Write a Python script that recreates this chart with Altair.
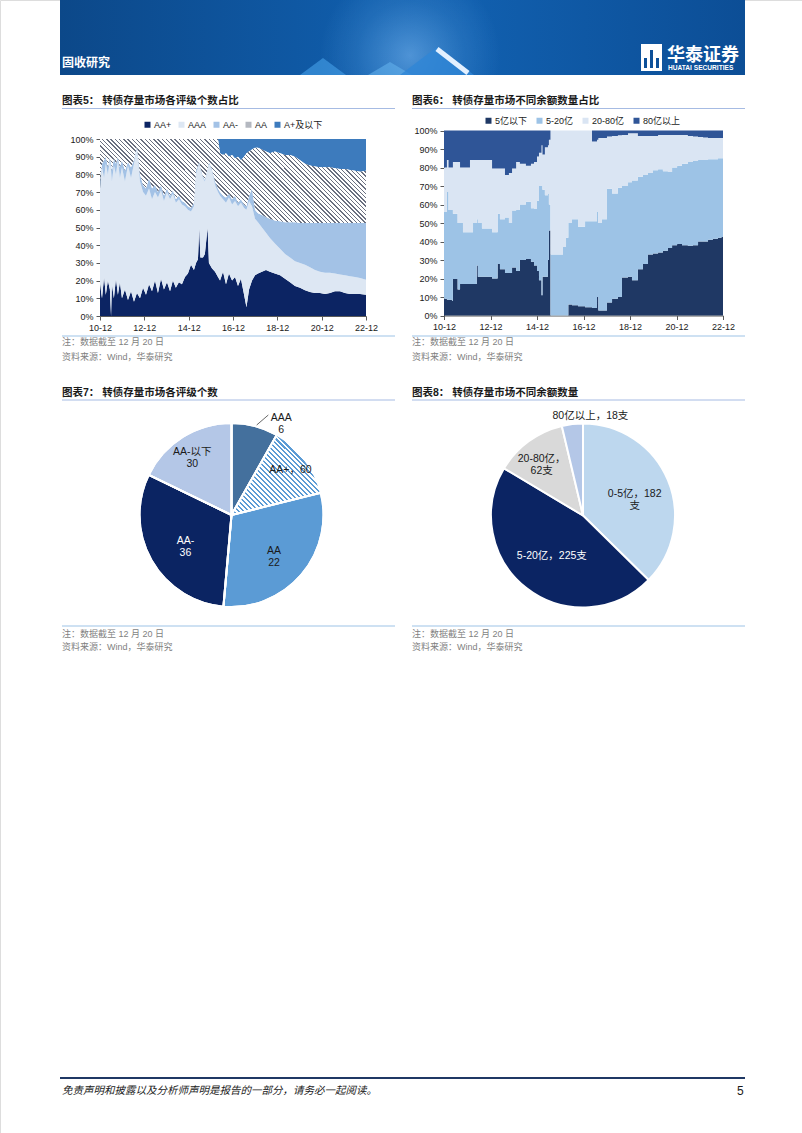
import altair as alt
import pandas as pd

FONT = "Liberation Sans, Noto Sans CJK SC"
DARK = "#1a1a1a"
GRAY = "#7f7f7f"
W, H = 802, 1133

# ---------------- Chart 5: cumulative shares by rating (%) -------------
c5_dates = ["2010-12-01", "2011-01-03", "2011-02-06", "2011-03-07", "2011-04-10", "2011-05-13",
            "2011-06-01", "2011-06-15", "2011-07-18", "2011-08-21", "2011-09-22", "2011-10-25",
            "2011-11-28", "2012-01-16", "2012-03-06", "2012-04-25", "2012-06-13", "2012-08-01",
            "2012-09-20", "2012-11-09", "2012-12-28", "2013-02-16", "2013-04-06", "2013-05-25",
            "2013-07-13", "2013-09-01", "2013-10-20", "2013-12-09", "2014-01-28", "2014-03-16",
            "2014-05-04", "2014-06-23", "2014-08-12", "2014-10-01", "2014-11-19", "2015-01-08",
            "2015-02-26", "2015-04-01", "2015-05-03", "2015-05-24", "2015-06-12", "2015-07-25",
            "2015-08-25", "2015-10-09", "2015-10-31", "2015-12-19", "2016-02-09", "2016-03-28",
            "2016-05-01", "2016-06-19", "2016-08-07", "2016-09-25", "2016-11-15", "2017-01-03",
            "2017-02-21", "2017-04-10", "2017-06-01", "2017-07-10", "2017-08-22", "2017-10-10",
            "2017-11-28", "2018-01-16", "2018-03-22", "2018-05-28", "2018-08-01", "2018-10-22",
            "2019-01-15", "2019-04-07", "2019-06-28", "2019-09-18", "2019-12-10", "2020-03-01",
            "2020-05-22", "2020-08-12", "2020-11-03", "2021-01-25", "2021-04-16", "2021-07-07",
            "2021-09-28", "2021-12-19", "2022-03-12", "2022-06-03", "2022-08-25", "2022-12-01"]
c5_aaplus_top = [18, 10, 22, 12, 20, 15, 0, 18, 10, 21, 12, 19,
                 10, 15, 9, 14, 8, 13, 10, 16, 12, 18, 14, 20,
                 13, 21, 15, 19, 14, 20, 16, 19, 18, 22, 24, 29,
                 26, 30, 32, 50, 33, 33, 35, 50, 30, 27, 25, 22,
                 20, 25, 18, 24, 20, 22, 17, 21, 12, 5, 15, 20,
                 23, 24, 25, 26, 25, 24, 23, 21, 19, 17, 16, 14.5,
                 13.5, 13, 13, 12.5, 13, 14, 14, 13, 12.5, 12.5, 12.5, 12]
c5_aaa_top = [72, 84, 78, 86, 80, 88, 82, 76, 85, 80, 88, 78,
              84, 76, 85, 78, 86, 95, 76, 70, 68, 72, 66, 70,
              67, 71, 65, 70, 66, 69, 64, 66, 63, 62, 60, 59,
              62, 80, 84, 86, 83, 78, 76, 82, 86, 82, 74, 70,
              68, 66, 64, 67, 63, 65, 62, 64, 61, 60, 65, 62,
              55, 53, 50, 47, 44, 41, 38, 35, 33, 31, 30, 29,
              27.5, 26, 25, 24.5, 24.5, 24, 23.5, 23, 22.5, 22, 21.5, 20.5]
c5_aaminus_top = [76, 86, 88, 90, 84, 90, 86, 82, 89, 86, 90, 84,
                  88, 82, 87, 84, 88, 96, 80, 74, 72, 78, 72, 74,
                  70, 74, 68, 72, 68, 71, 66, 68, 65, 64, 62, 61,
                  64, 82, 85, 87, 84, 79, 77, 83, 87, 83, 76, 72,
                  70, 68, 67, 69, 66, 68, 64, 66, 63, 62, 68, 72,
                  60, 58, 57, 56, 55, 54, 53.5, 53, 53, 53, 52.5, 52.5,
                  52.5, 52.5, 52.5, 52.5, 52.5, 52.5, 52.5, 52.5, 52.5, 52.5, 52.5, 52.5]
c5_aa_top = [100] * 48 + [92, 91, 92, 90, 91, 89, 90, 88, 90, 92, 93, 94,
                          95, 95, 94, 93, 92, 93, 92, 91, 91, 90, 88, 86,
                          85, 84.5, 84, 84, 84, 83.5, 83, 83, 82.5, 82, 81.5, 82]
c5_series = ["AA+", "AAA", "AA-", "AA", "A+及以下"]
c5_colors = ["#0c2463", "#dde7f3", "#a3c2e6", "#b4b8c0", "#3d7bbd"]

# ---------------- Chart 6: cumulative shares by outstanding amount (%) -------------
c6_dates = ["2010-12-01", "2011-01-16", "2011-02-10", "2011-04-05", "2011-04-20", "2011-07-03",
            "2011-08-10", "2011-09-25", "2012-01-13", "2012-03-01", "2012-04-28", "2012-05-16",
            "2012-07-19", "2012-12-25", "2013-03-22", "2013-04-28", "2013-07-16", "2013-09-16",
            "2013-11-04", "2014-01-07", "2014-03-07", "2014-06-10", "2014-08-28", "2014-10-15",
            "2014-12-01", "2015-01-01", "2015-02-10", "2015-02-25", "2015-04-04", "2015-05-22",
            "2015-06-06", "2015-07-01", "2016-01-13", "2016-03-01", "2016-04-06", "2016-06-03",
            "2016-09-06", "2016-12-25", "2017-04-13", "2017-07-01", "2017-07-22", "2017-09-16",
            "2017-12-04", "2018-02-22", "2018-05-25", "2018-07-28", "2018-10-31", "2019-01-01",
            "2019-04-04", "2019-06-22", "2019-09-09", "2019-11-27", "2020-02-15", "2020-05-01",
            "2020-07-19", "2020-09-22", "2020-12-10", "2021-02-25", "2021-05-28", "2021-08-16",
            "2021-11-04", "2022-01-22", "2022-04-10", "2022-06-25", "2022-09-13", "2022-11-07",
            "2022-12-01"]
c6_lt5_top = [9, 8.5, 8.5, 8, 19.7, 14, 17, 17, 17, 17, 27, 21,
              21, 20, 27.8, 25, 23, 23, 26, 24, 30, 30.5, 29, 27,
              24, 19, 11, 21, 21, 30, 46, 0, 0, 0, 6, 5.5,
              5, 4.5, 4, 10, 2.7, 2.7, 7, 9, 10, 20.6, 21, 19,
              25, 27.8, 33, 33.5, 34, 35, 36.5, 38, 38.6, 38, 37.7, 38,
              40, 40, 41, 41.5, 42, 42.5, 37]
c6_5to20_top = [56, 66.7, 57, 57, 55, 50, 50, 45, 45, 50, 52, 50,
                47, 45, 55, 52, 53, 50, 56.7, 57, 60, 61.5, 58, 57.6,
                62, 70, 70, 68, 65, 66, 60, 33, 37, 42, 50, 52,
                48, 51, 51, 56, 50, 52, 68.5, 66, 69, 70, 72, 73,
                75, 76, 77, 78.5, 79, 78, 77.6, 80, 81, 82, 83, 83.5,
                84, 84, 84.5, 84.5, 85, 85, 84]
c6_20to80_top = [80, 84, 80, 80, 83, 83, 80, 80, 84, 84, 84, 84,
                 84, 79.5, 79.5, 79.5, 76, 77, 79.5, 83, 82, 81, 82, 83,
                 86, 88, 92, 87, 91, 92, 95, 100, 100, 100, 100, 100,
                 100, 100, 94, 95, 96, 96, 96.7, 97, 97.5, 97.6, 98.5, 98.5,
                 97, 97, 97, 97, 97.6, 97.6, 97.6, 97.6, 97.6, 97.6, 97, 96.7,
                 96.5, 96.2, 96, 96, 96, 96, 96]
c6_series = ["5亿以下", "5-20亿", "20-80亿", "80亿以上"]
c6_colors = ["#1f3864", "#9dc3e6", "#dae5f3", "#2f5597"]

p7_cats = ["AAA", "AA+", "AA", "AA-", "AA-以下"]
p7_share = [8.2, 12.9, 30.3, 30.8, 17.8]
p7_labels = ["AAA\n6", "AA+，60", "AA\n22", "AA-\n36", "AA-以下\n30"]
p7_colors = ["#44709d", "#ffffff", "#5b9bd5", "#0b2462", "#b4c7e7"]

# ---------------- Pie 8 -------------
p8_cats = ["0-5亿", "5-20亿", "20-80亿", "80亿以上"]
p8_counts = [182, 225, 62, 18]
p8_labels = ["0-5亿，182\n支", "5-20亿，225支", "20-80亿，\n62支", "80亿以上，18支"]
p8_colors = ["#bdd7ee", "#0b2463", "#d9d9d9", "#b4c7e7"]

# label layout (style, not data)
p7_label_r = [109, 74, 56, 53, 74]
p7_label_c = [DARK, DARK, DARK, "#ffffff", DARK]
p7_outer = [1, 0, 0, 0, 0]
p8_label_r = [56, 51, 70, 100]
p8_label_c = [DARK, "#ffffff", DARK, DARK]
p8_outer = [0, 0, 0, 1]

assert len(c5_dates) == len(c5_aaplus_top) == len(c5_aaa_top) == len(c5_aaminus_top) == len(c5_aa_top)
assert len(c6_dates) == len(c6_lt5_top) == len(c6_5to20_top) == len(c6_20to80_top)


def hatch(dark, light, n, frac, x1, y1, x2, y2):
    stops = []
    for i in range(n):
        a, b, c = i / n, (i + frac) / n, (i + 1) / n
        stops += [alt.GradientStop(offset=round(a, 5), color=dark),
                  alt.GradientStop(offset=round(b, 5), color=dark),
                  alt.GradientStop(offset=round(b, 5), color=light),
                  alt.GradientStop(offset=round(c, 5), color=light)]
    return alt.LinearGradient(gradient="linear", stops=stops, x1=x1, y1=y1, x2=x2, y2=y2)


def dt(y, m=12, d=1):
    return alt.DateTime(year=y, month=m, date=d, utc=True)


def time_x(rng, bottom, show=True):
    axis = None
    if show:
        axis = alt.Axis(orient="bottom", offset=-(H - bottom), format="%y-%m",
                        values=[dt(y) for y in range(2010, 2023, 2)],
                        title=None, grid=False, labelFont=FONT, labelFontSize=9,
                        labelColor=DARK, labelFlush=False, labelPadding=3, tickSize=4,
                        tickColor="#595959", domainColor="#595959", labelOverlap=False)
    return alt.X("date:T", scale=alt.Scale(type="utc", domain=[dt(2010), dt(2022)], range=rng),
                 axis=axis)


def pct_y(rng, left, show=True):
    axis = None
    if show:
        axis = alt.Axis(orient="left", offset=-left, values=list(range(0, 101, 10)),
                        labelExpr="datum.value + '%'", title=None, grid=False, labelFont=FONT,
                        labelFontSize=9, labelColor=DARK, labelPadding=3, tickSize=4,
                        tickColor="#595959", domainColor="#595959")
    return alt.Y("lo:Q", stack=None,
                 scale=alt.Scale(domain=[0, 100], range=rng, nice=False, zero=False), axis=axis)


def long_frame(dates, tops, series):
    rows = []
    for i, d in enumerate(dates):
        b = [0] + [t[i] for t in tops] + [100]
        for j, s in enumerate(series):
            rows.append({"date": d, "series": s, "lo": b[j], "hi": b[j + 1]})
    return pd.DataFrame(rows)


def legend(x, y, pad):
    return alt.Legend(orient="none", legendX=x, legendY=y, direction="horizontal", title=None,
                      symbolType="square", symbolSize=36, symbolStrokeWidth=0,
                      labelFont=FONT, labelFontSize=9, labelColor=DARK,
                      columnPadding=pad, labelOffset=2)


layers = []

# ---------------- page furniture (header, titles, notes, footer) -------------
sx = alt.Scale(domain=[0, W], range=[0, W], nice=False, zero=False)
sy = alt.Scale(domain=[0, H], range=[0, H], nice=False, zero=False)
PX = alt.X("x:Q", scale=sx, axis=None)
PY = alt.Y("y:Q", scale=sy, axis=None)


def rect_layer(x0, y0, x1, y1, fill):
    return alt.Chart(pd.DataFrame({"x": [x0], "y": [y0], "x2": [x1], "y2": [y1]})).mark_rect(
        color=fill).encode(x=PX, y=PY, x2="x2:Q", y2="y2:Q")


band = alt.LinearGradient(gradient="linear", x1=0, y1=0, x2=1, y2=0, stops=[
    alt.GradientStop(offset=0, color="#0c4889"), alt.GradientStop(offset=0.45, color="#105dab"),
    alt.GradientStop(offset=0.6, color="#115fae"), alt.GradientStop(offset=1, color="#0c4e96")])
glow = alt.RadialGradient(gradient="radial", x1=0.5, y1=0.6, r1=0, x2=0.5, y2=0.6, r2=0.5, stops=[
    alt.GradientStop(offset=0, color="rgba(140,200,255,0.5)"),
    alt.GradientStop(offset=0.6, color="rgba(120,190,250,0.16)"),
    alt.GradientStop(offset=1, color="rgba(120,190,250,0)")])
for r in [(60, 0, 745, 75, band), (320, 0, 500, 75, glow),
          (641, 44, 662, 71, "#ffffff"), (644, 58, 647, 68, "#0d5099"),
          (650, 50, 653, 68, "#0d5099"), (656, 58, 659, 68, "#0d5099")]:
    layers.append(rect_layer(*r))

tri_df = pd.DataFrame({
    "k": ["a", "a", "a", "b", "b", "b", "c", "c", "c"],
    "x": [300, 323, 346, 368, 390, 412, 400, 437, 474],
    "y": [75, 58, 75, 75, 62, 75, 75, 47, 75],
    "c": ["#3f97df"] * 3 + ["#66b5ee"] * 3 + ["#2f86d6"] * 3,
    "o": [0.7] * 3 + [0.55] * 3 + [0.8] * 3})
layers.append(alt.Chart(tri_df).mark_area().encode(
    x=PX, y=PY, y2=alt.datum(75), detail="k:N", color=alt.Color("c:N", scale=None),
    opacity=alt.Opacity("o:Q", scale=None)))

rules = [(437, 49, 468, 73, "#e3f0ff", 5),
         (62, 108.5, 395, 108.5, "#8faadc", 0.8), (412, 108.5, 745, 108.5, "#8faadc", 0.8),
         (62, 336, 395, 336, "#9dc3e6", 1), (412, 336, 745, 336, "#9dc3e6", 1),
         (62, 400, 395, 400, "#8faadc", 0.8), (412, 400, 745, 400, "#8faadc", 0.8),
         (62, 626, 395, 626, "#9dc3e6", 1), (412, 626, 745, 626, "#9dc3e6", 1),
         (60, 1078, 745, 1078, "#1f3864", 2)]
layers.append(alt.Chart(pd.DataFrame(rules, columns=["x", "y", "x2", "y2", "c", "w"])).mark_rule(
    strokeCap="butt").encode(x=PX, y=PY, x2="x2:Q", y2="y2:Q", color=alt.Color("c:N", scale=None),
                             strokeWidth=alt.StrokeWidth("w:Q", scale=None)))

plain_txt = [("注：数据截至 12 月 20 日", 62, 345, 9, GRAY), ("资料来源：Wind，华泰研究", 62, 360, 9, GRAY),
             ("注：数据截至 12 月 20 日", 412, 345, 9, GRAY), ("资料来源：Wind，华泰研究", 412, 360, 9, GRAY),
             ("注：数据截至 12 月 20 日", 62, 637, 9, GRAY), ("资料来源：Wind，华泰研究", 62, 650, 9, GRAY),
             ("注：数据截至 12 月 20 日", 412, 637, 9, GRAY), ("资料来源：Wind，华泰研究", 412, 650, 9, GRAY),
             ("5", 737, 1095, 12, DARK)]
bold_txt = [("固收研究", 62, 67, 12, "#ffffff"),
            ("华泰证券", 667, 61, 18, "#ffffff"),
            ("HUATAI SECURITIES", 668, 70, 6.6, "#ffffff"),
            ("图表5：  转债存量市场各评级个数占比", 62, 104, 10.5, DARK),
            ("图表6：  转债存量市场不同余额数量占比", 412, 104, 10.5, DARK),
            ("图表7：  转债存量市场各评级个数", 62, 396, 10.5, DARK),
            ("图表8：  转债存量市场不同余额数量", 412, 396, 10.5, DARK)]
italic_txt = [("免责声明和披露以及分析师声明是报告的一部分，请务必一起阅读。", 62, 1094, 10.5, DARK)]
for items, kw in ((plain_txt, {}), (bold_txt, {"fontWeight": "bold"}), (italic_txt, {"fontStyle": "italic"})):
    tdf = pd.DataFrame(items, columns=["t", "x", "y", "s", "c"])
    layers.append(alt.Chart(tdf).mark_text(align="left", baseline="alphabetic", font=FONT, **kw)
                  .encode(x=PX, y=PY, text="t:N", size=alt.Size("s:Q", scale=None),
                          color=alt.Color("c:N", scale=None)))

# ---------------- chart 5 -------------
df5 = long_frame(c5_dates, [c5_aaplus_top, c5_aaa_top, c5_aaminus_top, c5_aa_top], c5_series)
layers.append(alt.Chart(df5).transform_filter(alt.datum.series != "AA").mark_area().encode(
    x=time_x([100, 366], 316), y=pct_y([316, 139], 100), y2="hi:Q",
    color=alt.Color("series:N", scale=alt.Scale(domain=c5_series, range=c5_colors),
                    legend=legend(143, 120, 5))))
layers.append(alt.Chart(df5).transform_filter(alt.datum.series == "AA").mark_area(
    color=hatch("#6a7080", "#ffffff", 82, 0.34, 0, 1, 1.1965, 0.622)).encode(
    x=time_x([100, 366], 316, False), y=pct_y([316, 139], 100, False), y2="hi:Q"))

# ---------------- chart 6 -------------
df6 = long_frame(c6_dates, [c6_lt5_top, c6_5to20_top, c6_20to80_top], c6_series)
layers.append(alt.Chart(df6).mark_area(interpolate="step-after").encode(
    x=time_x([444, 723], 315.5), y=pct_y([315.5, 130.5], 444), y2="hi:Q",
    color=alt.Color("series:N", scale=alt.Scale(domain=c6_series, range=c6_colors),
                    legend=legend(484, 116, 7))))


# ---------------- pies -------------
def pie_layers(cats, vals, labels, colors, lr, lc, outer, odx, ody, cx, cy, hatch_cat=None):
    df = pd.DataFrame({"idx": list(range(len(cats))), "cat": cats, "v": vals, "lab": labels,
                       "r": lr, "tc": lc, "outer": outer})
    tscale = alt.Scale(domain=[0, sum(vals)], nice=False, zero=True)
    theta = alt.Theta("v:Q", stack=True, scale=tscale)
    order = alt.Order("idx:Q", sort="ascending")
    cxy = dict(x=alt.value(cx), y=alt.value(cy))
    base = alt.Chart(df)
    out = [base.mark_arc(outerRadius=92, stroke="white", strokeWidth=2).encode(
        theta=theta, order=order,
        color=alt.Color("cat:N", scale=alt.Scale(domain=cats, range=colors), legend=None), **cxy)]
    if hatch_cat is not None:
        out.append(base.mark_arc(outerRadius=92, stroke="white", strokeWidth=2,
                                 color=hatch("#5b9bd5", "#ffffff", 34, 0.45, 0, 1, 1.051, 0.057)).encode(
            theta=theta, order=order,
            fillOpacity=alt.condition(alt.datum.cat == hatch_cat, alt.value(1), alt.value(0)), **cxy))
    tb = base.transform_window(cum="sum(v)", sort=[alt.SortField("idx", order="ascending")],
                               frame=[None, 0]).transform_calculate(mid="datum.cum - datum.v / 2")
    tmid = alt.Theta("mid:Q", stack=None, scale=tscale)
    txt = dict(font=FONT, fontSize=10.5, lineBreak="\n", lineHeight=12, baseline="middle", align="center")
    out.append(tb.mark_text(**txt).encode(
        theta=tmid, text="lab:N", radius=alt.Radius("r:Q", scale=None),
        color=alt.Color("tc:N", scale=None),
        opacity=alt.condition(alt.datum.outer == 1, alt.value(0), alt.value(1)), **cxy))
    out.append(tb.mark_text(dx=odx, dy=ody, **txt).encode(
        theta=tmid, text="lab:N", radius=alt.Radius("r:Q", scale=None),
        color=alt.Color("tc:N", scale=None),
        opacity=alt.condition(alt.datum.outer == 1, alt.value(1), alt.value(0)), **cxy))
    return out


layers += pie_layers(p7_cats, p7_share, p7_labels, p7_colors, p7_label_r, p7_label_c, p7_outer,
                     22, 8, 231.5, 515, hatch_cat="AA+")
layers += pie_layers(p8_cats, p8_counts, p8_labels, p8_colors, p8_label_r, p8_label_c, p8_outer,
                     19, 0, 583, 515.5)
# leader line of the AAA label
layers.append(alt.Chart(pd.DataFrame({"z": [0]})).mark_rule(color="#404040", strokeWidth=0.8).encode(
    x=alt.value(256.7), y=alt.value(425), x2=alt.value(268.3), y2=alt.value(415)))

chart = alt.layer(*layers).resolve_scale(
    x="independent", y="independent", color="independent", theta="independent"
).resolve_axis(x="independent", y="independent").properties(
    width=W, height=H, padding=0, background="white"
).configure_view(stroke="transparent", strokeWidth=0).configure(font=FONT)

chart.save("out.html", embed_options={"renderer": "svg", "actions": False})
